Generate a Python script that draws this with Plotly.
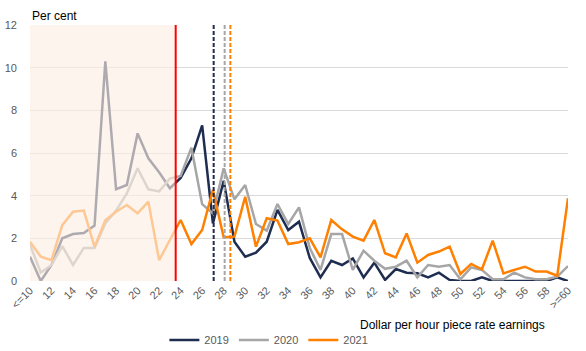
import plotly.graph_objects as go

earnings = list(range(10, 61))  # dollar per hour bins, 10 = "<=10", 60 = ">=60"
tick_vals = list(range(10, 61, 2))
tick_text = ["&lt;=10"] + [str(v) for v in range(12, 60, 2)] + ["&gt;=60"]

y2019 = [1.14, 0.0, 0.75, 2.0, 2.2, 2.25, 2.6, 10.3, 4.3, 4.5,
         6.92, 5.75, 5.1, 4.35, 4.83, 5.75, 7.3, 2.7, 4.7, 1.84,
         1.14, 1.33, 1.84, 3.33, 2.39, 2.78, 1.08, 0.17, 0.95, 0.75,
         1.06, 0.17, 0.86, 0.05, 0.56, 0.39, 0.36, 0.17, 0.39, 0.05,
         0.0, 0.0, 0.17, 0.0, 0.0, 0.0, 0.0, 0.0, 0.0, 0.17, 0.0]
y2020 = [1.7, 0.4, 0.75, 1.64, 0.75, 1.55, 1.55, 2.7, 3.3, 4.1,
         5.28, 4.3, 4.2, 4.8, 4.92, 6.25, 3.6, 3.17, 5.28, 3.83,
         4.5, 2.67, 2.36, 3.61, 2.67, 3.45, 1.55, 0.52, 2.2, 2.2,
         0.52, 1.42, 0.95, 0.57, 0.67, 0.95, 0.17, 0.75, 0.67, 0.75,
         0.08, 0.64, 0.52, 0.08, 0.08, 0.39, 0.17, 0.08, 0.08, 0.2, 0.7]
y2021 = [1.84, 1.14, 0.98, 2.62, 3.25, 3.3, 1.6, 2.85, 3.25, 3.56,
         3.17, 3.72, 0.98, 1.9, 2.86, 1.73, 2.39, 4.27, 2.05, 2.08,
         3.95, 1.61, 2.94, 2.83, 1.73, 1.82, 2.0, 1.11, 2.86, 2.42,
         2.08, 1.89, 2.86, 1.3, 1.11, 2.23, 0.86, 1.22, 1.38, 1.61,
         0.33, 0.8, 0.55, 1.89, 0.36, 0.52, 0.67, 0.44, 0.44, 0.25, 3.88]

series_names = ["2019", "2020", "2021"]
series_colors = ["#1f2d50", "#a6a6a6", "#ff8000"]
threshold = 23.54          # red line (end of shaded band)
medians = [27.07, 28.09, 28.62]  # dashed lines for 2019, 2020, 2021

fig = go.Figure()
for name, ys, col in zip(series_names, [y2019, y2020, y2021], series_colors):
    fig.add_trace(go.Scatter(x=earnings, y=ys, mode="lines", name=name,
                             line=dict(color=col, width=2.5)))

shapes = []
# shaded overlay band
shapes.append(dict(type="rect", xref="x", yref="y", x0=10, x1=threshold, y0=0, y1=12,
                   fillcolor="rgba(252,238,228,0.65)", line=dict(width=0), layer="above"))
shapes.append(dict(type="line", xref="x", yref="y", x0=threshold, x1=threshold, y0=0, y1=12,
                   line=dict(color="#ff0000", width=2), layer="above"))
for m, col in zip(medians, series_colors):
    shapes.append(dict(type="line", xref="x", yref="y", x0=m, x1=m, y0=0, y1=12,
                       line=dict(color=col, width=2, dash="4px,2px"), layer="above"))

fig.update_layout(
    width=586, height=351,
    margin=dict(l=30, r=18, t=25, b=70, autoexpand=False),
    paper_bgcolor="white", plot_bgcolor="white",
    font=dict(family="Liberation Sans, Arial, sans-serif", size=11, color="#595959"),
    shapes=shapes,
    showlegend=True,
    legend=dict(orientation="h", x=0.444, xanchor="center", y=0.031, yanchor="middle",
                yref="container",
                font=dict(size=11, color="#595959"), itemwidth=30, tracegroupgap=0,
                bgcolor="rgba(0,0,0,0)"),
    xaxis=dict(range=[10, 60], tickmode="array", tickvals=tick_vals, ticktext=tick_text,
               tickangle=-45, showgrid=False, zeroline=False, showline=False,
               ticks="", automargin=False, tickfont=dict(size=11, color="#595959")),
    yaxis=dict(range=[0, 12], tickvals=[0, 2, 4, 6, 8, 10, 12], showgrid=True,
               gridcolor="#d9d9d9", gridwidth=1, zeroline=False, showline=False,
               ticks="", automargin=False, ticklabelstandoff=12,
               tickfont=dict(size=11, color="#595959")),
    annotations=[
        dict(text="Per cent", xref="paper", yref="paper", x=0, y=1, xanchor="left",
             yanchor="bottom", showarrow=False, font=dict(size=12, color="#000000")),
        dict(text="Dollar per hour piece rate earnings", xref="paper", yref="paper",
             x=0.961, y=-0.172, xanchor="right", yanchor="middle", showarrow=False,
             font=dict(size=12, color="#000000")),
    ],
)

fig.write_html("out.html")
